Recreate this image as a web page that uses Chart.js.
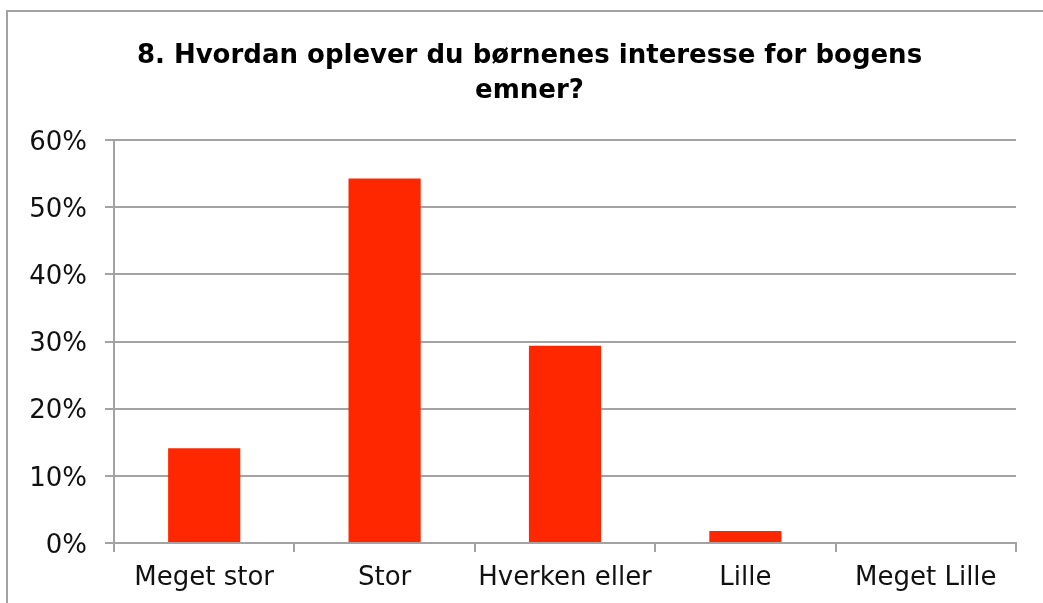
<!DOCTYPE html>
<html>
<head>
<meta charset="utf-8">
<script src="https://cdn.jsdelivr.net/npm/chart.js@4/dist/chart.umd.min.js"></script>
<style>
    html, body { margin: 0; padding: 0; background: #ffffff; overflow: hidden; }
    #boks { width: 1043px; height: 603px; }
</style>
</head>
<body>
<div id="boks"><canvas id="grafik8"></canvas></div>
<script>
// svarkategorier og andele (%)
const kategorier = ['Meget stor', 'Stor', 'Hverken eller', 'Lille', 'Meget Lille'];
const andele = [14.1, 54.3, 29.4, 1.8, 0];
const titelLinjer = ['8. Hvordan oplever du børnenes interesse for bogens', 'emner?'];

const graa = '#a3a3a3';

// graa ramme rundt om hele figuren + titlen flyttes lidt til hoejre
const rammePlugin = {
    id: 'ramme',
    afterLayout(chart) {
        var t = chart.titleBlock;
        if (t) {
            t.left = 16;
            t.right = 1043;
            t.width = t.right - t.left;
        }
    },
    beforeDraw(chart) {
        const ctx = chart.ctx;
        ctx.save();
        ctx.strokeStyle = graa;
        ctx.lineWidth = 2;
        ctx.strokeRect(7, 11, 1200, 800);
        ctx.restore();
    }
};

function tegnGrafik() {
    var ctx = document.getElementById('grafik8').getContext('2d');
    var grafik = new Chart(ctx, {
        type: 'bar',
        data: {
            labels: kategorier,
            datasets: [{
                data: andele,
                backgroundColor: '#ff2700',
                borderWidth: 0,
                barPercentage: 0.4,
                categoryPercentage: 1.0
            }]
        },
        options: {
            responsive: true,
            maintainAspectRatio: false,
            animation: false,
            layout: { padding: { left: 16, right: 27, top: 0, bottom: 0 } },
            plugins: {
                legend: { display: false },
                tooltip: { enabled: false },
                title: {
                    display: true,
                    text: titelLinjer,
                    color: '#000000',
                    font: { family: 'DejaVu Sans', size: 26, weight: 'bold', lineHeight: 1.35 },
                    padding: { top: 39, bottom: 31 }
                }
            },
            scales: {
                x: {
                    afterFit: function (scale) { scale.height = 60; },
                    grid: {
                        display: true,
                        drawOnChartArea: false,
                        drawTicks: true,
                        tickLength: 9,
                        color: graa,
                        lineWidth: 2
                    },
                    border: { display: true, color: graa, width: 2 },
                    ticks: {
                        color: '#111111',
                        padding: 11,
                        font: { family: 'DejaVu Sans', size: 26 }
                    }
                },
                y: {
                    min: 0,
                    max: 60,
                    afterFit: function (scale) { scale.width = 98; },
                    grid: {
                        color: graa,
                        lineWidth: 2,
                        drawTicks: true,
                        tickLength: 9
                    },
                    border: { display: true, color: graa, width: 2 },
                    ticks: {
                        stepSize: 10,
                        color: '#111111',
                        padding: 18,
                        labelOffset: 3,
                        font: { family: 'DejaVu Sans', size: 26 },
                        callback: function (v) { return v + '%'; }
                    }
                }
            }
        },
        plugins: [rammePlugin]
    });
}

tegnGrafik();
</script>
</body>
</html>
